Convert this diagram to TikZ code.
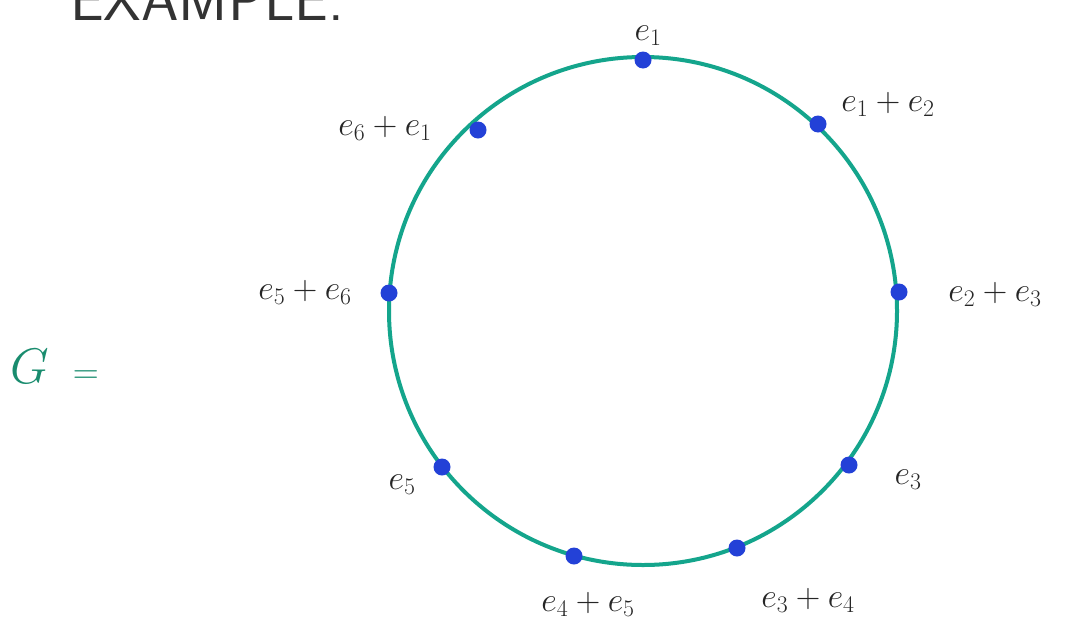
\documentclass[tikz,border=0pt]{standalone}
\usepackage{fix-cm}
\usepackage{fontspec}
\begin{document}
\begin{tikzpicture}[x=1pt,y=-1pt,
  ring/.style={draw=ringcol,line width=4pt},
  vdot/.style={circle,fill=dotcol,inner sep=0pt,minimum size=17pt},
  lab/.style={inner sep=0pt,font=\fontsize{34}{38}\selectfont,text=black!85}]
\definecolor{ringcol}{RGB}{20,165,140}
\definecolor{dotcol}{RGB}{35,65,215}
\definecolor{gcol}{RGB}{25,140,110}
\useasboundingbox[fill=white] (0,0) rectangle (1068,635);
\node[anchor=base west,inner sep=0pt,text=black!80,font=\sffamily\fontsize{60}{64}\selectfont] (title) at (70,20) {EXAMPLE:};
\node[anchor=west,inner sep=0pt,text=gcol,font=\fontsize{50}{54}\selectfont] (G) at (10,366) {$G$\hspace{24pt}{\fontsize{36}{40}\selectfont$=$}};
\node[circle,ring,minimum size=508pt,inner sep=0pt] (C) at (643,311) {};
\node[vdot] (d1) at (643,60) {};
\node[vdot] (d12) at (818,124) {};
\node[vdot] (d61) at (478,130) {};
\node[vdot] (d56) at (389,293) {};
\node[vdot] (d23) at (899,292) {};
\node[vdot] (d3) at (849,465) {};
\node[vdot] (d5) at (442,467) {};
\node[vdot] (d45) at (574,556) {};
\node[vdot] (d34) at (737,548) {};
\node[lab] (l1) at (648,36) {$e_1$};
\node[lab] (l12) at (888,104) {$e_1+e_2$};
\node[lab] (l61) at (385,128) {$e_6+e_1$};
\node[lab] (l56) at (305,292) {$e_5+e_6$};
\node[lab] (l23) at (995,294) {$e_2+e_3$};
\node[lab] (l3) at (908,480) {$e_3$};
\node[lab] (l5) at (402,485) {$e_5$};
\node[lab] (l45) at (588,604) {$e_4+e_5$};
\node[lab] (l34) at (808,600) {$e_3+e_4$};
\end{tikzpicture}
\end{document}
